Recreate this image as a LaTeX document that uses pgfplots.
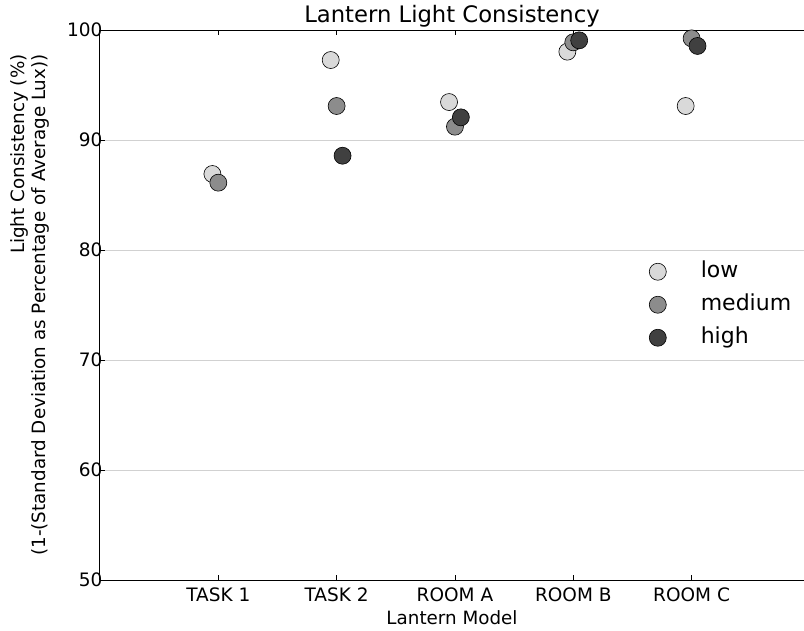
\documentclass[border=0pt]{standalone}
\usepackage{pgfplots}
\pgfplotsset{compat=1.18}
\usepackage{fontspec}
\setmainfont{DejaVu Sans}
\definecolor{clow}{HTML}{D9D9D9}
\definecolor{cmed}{HTML}{8C8C8C}
\definecolor{chigh}{HTML}{404040}
\begin{document}
\begin{tikzpicture}
\begin{axis}[
  at={(0,0)}, anchor=south west,
  scale only axis, width=704pt, height=550pt,
  xmin=-1, xmax=4.95, ymin=50, ymax=100,
  axis x line*=box, axis y line*=left,
  axis line style={line width=1pt, black},
  xtick={0,1,2,3,4},
  xticklabels={TASK 1,TASK 2,ROOM A,ROOM B,ROOM C},
  ytick={50,60,70,80,90,100},
  tick align=inside, major tick length=5pt,
  tick style={black, line width=0.6pt},
  ymajorgrids,
  grid style={color=black!18, line width=0.8pt},
  /pgf/number format/assume math mode=true,
  tick label style={font=\fontsize{18.5}{22}\selectfont},
  xticklabel style={yshift=-4pt},
  yticklabel style={xshift=6pt},
  label style={font=\fontsize{18.3}{21}\selectfont},
  xlabel={Lantern Model},
  xlabel style={yshift=-2pt},
  ylabel={Light Consistency (\%)\\(1-(Standard Deviation as Percentage of Average Lux))},
  ylabel style={align=right, at={(axis description cs:-0.0668,0.5)}, anchor=south},
  title={Lantern Light Consistency},
  title style={font=\fontsize{22.7}{26}\selectfont, yshift=-7pt},
  clip=false,
  legend style={draw=none, fill=none, at={(0.775,0.589)}, anchor=north west,
    font=\fontsize{22}{26}\selectfont, row sep=6pt,
    nodes={inner sep=3pt, text height=16pt, text depth=5pt}},
  legend cell align=left,
  legend image code/.code={\path[draw=none,fill=none] (-9pt,0pt) -- (40pt,0pt); \draw[#1] plot coordinates {(0pt,0pt)};},
]
\addplot[only marks, mark=*, mark size=8.5pt, mark options={draw=black, line width=0.6pt, fill=clow}]
  coordinates {(-0.05,86.91) (0.95,97.27) (1.95,93.45) (2.95,98.03) (3.95,93.09)};
\addlegendentry{low}
\addplot[only marks, mark=*, mark size=8.5pt, mark options={draw=black, line width=0.6pt, fill=cmed}]
  coordinates {(0,86.12) (1,93.09) (2,91.21) (3,98.88) (4,99.24)};
\addlegendentry{medium}
\addplot[only marks, mark=*, mark size=8.5pt, mark options={draw=black, line width=0.6pt, fill=chigh}]
  coordinates {(1.05,88.57) (2.05,92.06) (3.05,99.06) (4.05,98.55)};
\addlegendentry{high}
\end{axis}
\pgfresetboundingbox
\path (-100pt,-50pt) rectangle (704pt,580pt);
\end{tikzpicture}
\end{document}
